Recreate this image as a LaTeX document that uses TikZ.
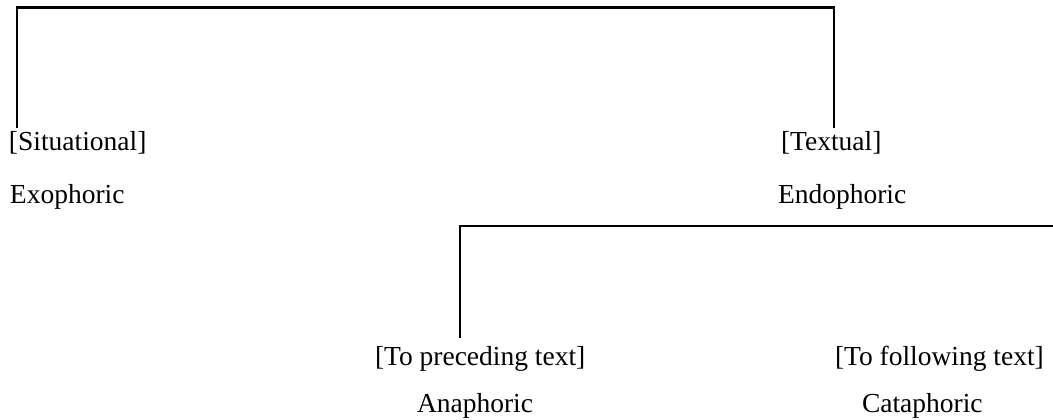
\documentclass[tikz,border=0pt]{standalone}
\usepackage{fontspec}
\setmainfont{Liberation Serif}
\begin{document}
\begin{tikzpicture}[x=0.5pt,y=-0.5pt,
  lbl/.style={anchor=base west,inner sep=0pt,outer sep=0pt,font=\fontsize{13.75}{16}\selectfont},
  branch/.style={draw=black,line width=1.2pt}]
\useasboundingbox (0,0) rectangle (1053,419);
% first level
\node[lbl] (sit) at (9,150) {[Situational]};
\node[lbl] (exo) at (10,203) {Exophoric};
\node[lbl] (tex) at (781,150) {[Textual]};
\node[lbl] (endo) at (778,203) {Endophoric};
% second level
\node[lbl] (pre) at (375,365) {[To preceding text]};
\node[lbl] (ana) at (417,412) {Anaphoric};
\node[lbl] (fol) at (835,365) {[To following text]};
\node[lbl] (cata) at (862,412) {Cataphoric};
% bracket ends
\coordinate (sitend) at (17,128);
\coordinate (texend) at (834,128);
\coordinate (preend) at (460,338);
\coordinate (folend) at (1053,226);
\draw[branch] (sitend) -- (17,7.5) -- (834,7.5) -- (texend);
\draw[branch] (preend) -- (460,226) -- (folend);
\end{tikzpicture}
\end{document}
